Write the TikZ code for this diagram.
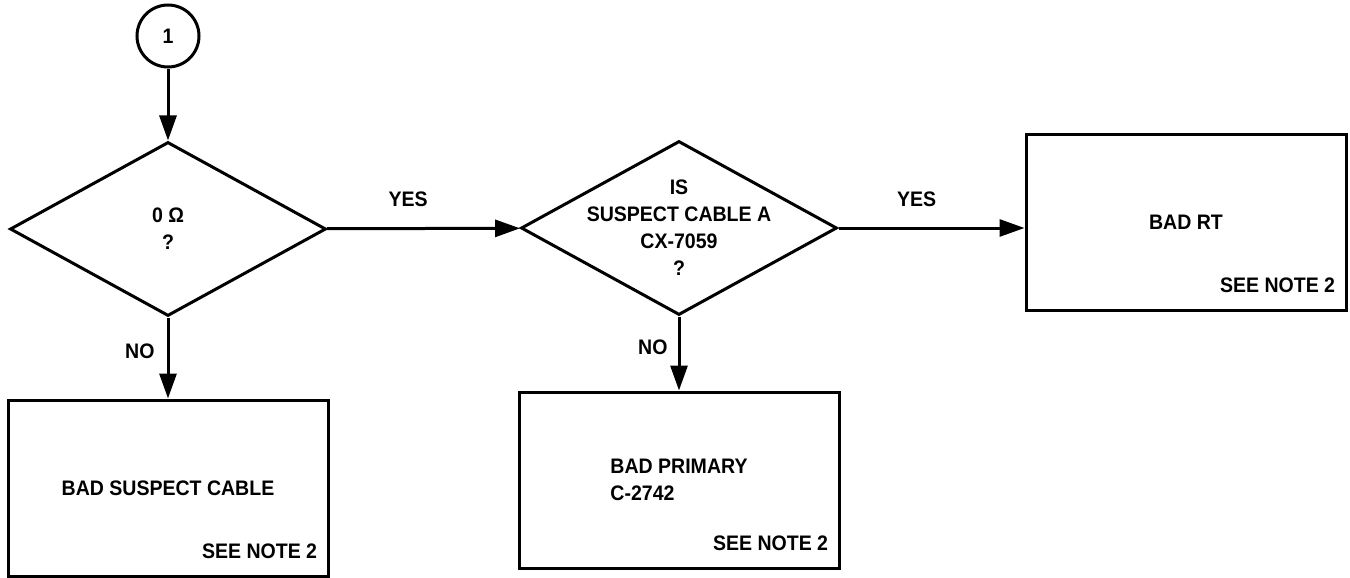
\documentclass[tikz,border=0pt]{standalone}
\usepackage{fontspec}
\setmainfont{Liberation Sans}[FakeStretch=0.93]
\usetikzlibrary{shapes.geometric, arrows.meta, positioning}

\begin{document}
\begin{tikzpicture}[
    x=0.5pt, y=-0.5pt,
    every node/.style={font=\bfseries\fontsize{10.5}{13.5}\selectfont},
    connector/.style={circle, draw, line width=1.5pt, minimum size=31pt, inner sep=0pt},
    decision/.style={diamond, draw, line width=1.5pt, minimum width=158pt, minimum height=87pt, inner sep=0pt},
    result/.style={rectangle, draw, line width=1.5pt, minimum width=160pt, minimum height=88pt, align=left},
    qtext/.style={anchor=center, align=center, inner sep=0pt},
    note/.style={anchor=south east, inner sep=0pt, xshift=-6pt, yshift=9pt},
    arrow/.style={line width=1.5pt, -{Triangle[length=12.5pt, width=8.5pt]}},
    labeltext/.style={inner sep=0pt}
]
\useasboundingbox (0,0) rectangle (1350,578);

\node (start) [connector] at (168,36) {1};
\node (zero) [decision, label={[qtext]center:0 Ω\\?}] at (168,229) {};
\node (cable) [decision, label={[qtext]center:IS\\SUSPECT CABLE A\\CX-7059\\?}] at (679,228) {};
\node (badrt) [result, label={[note]south east:SEE NOTE 2}] at (1186,222) {BAD RT};
\node (badcable) [result, label={[note]south east:SEE NOTE 2}] at (168,488) {BAD SUSPECT CABLE};
\node (badprimary) [result, label={[note]south east:SEE NOTE 2}] at (679,480) {BAD PRIMARY\\C-2742};

\draw [arrow] (start) -- (zero);
\draw [arrow] (zero) -- node[pos=0.42, above=10pt, labeltext] {YES} (cable);
\draw [arrow] (cable) -- node[pos=0.42, above=10pt, labeltext] {YES} (cable.east -| badrt.west);
\draw [arrow] (zero) -- node[pos=0.42, left=6pt, labeltext] {NO} (badcable);
\draw [arrow] (cable) -- node[pos=0.42, left=5pt, labeltext] {NO} (badprimary);
\end{tikzpicture}
\end{document}
